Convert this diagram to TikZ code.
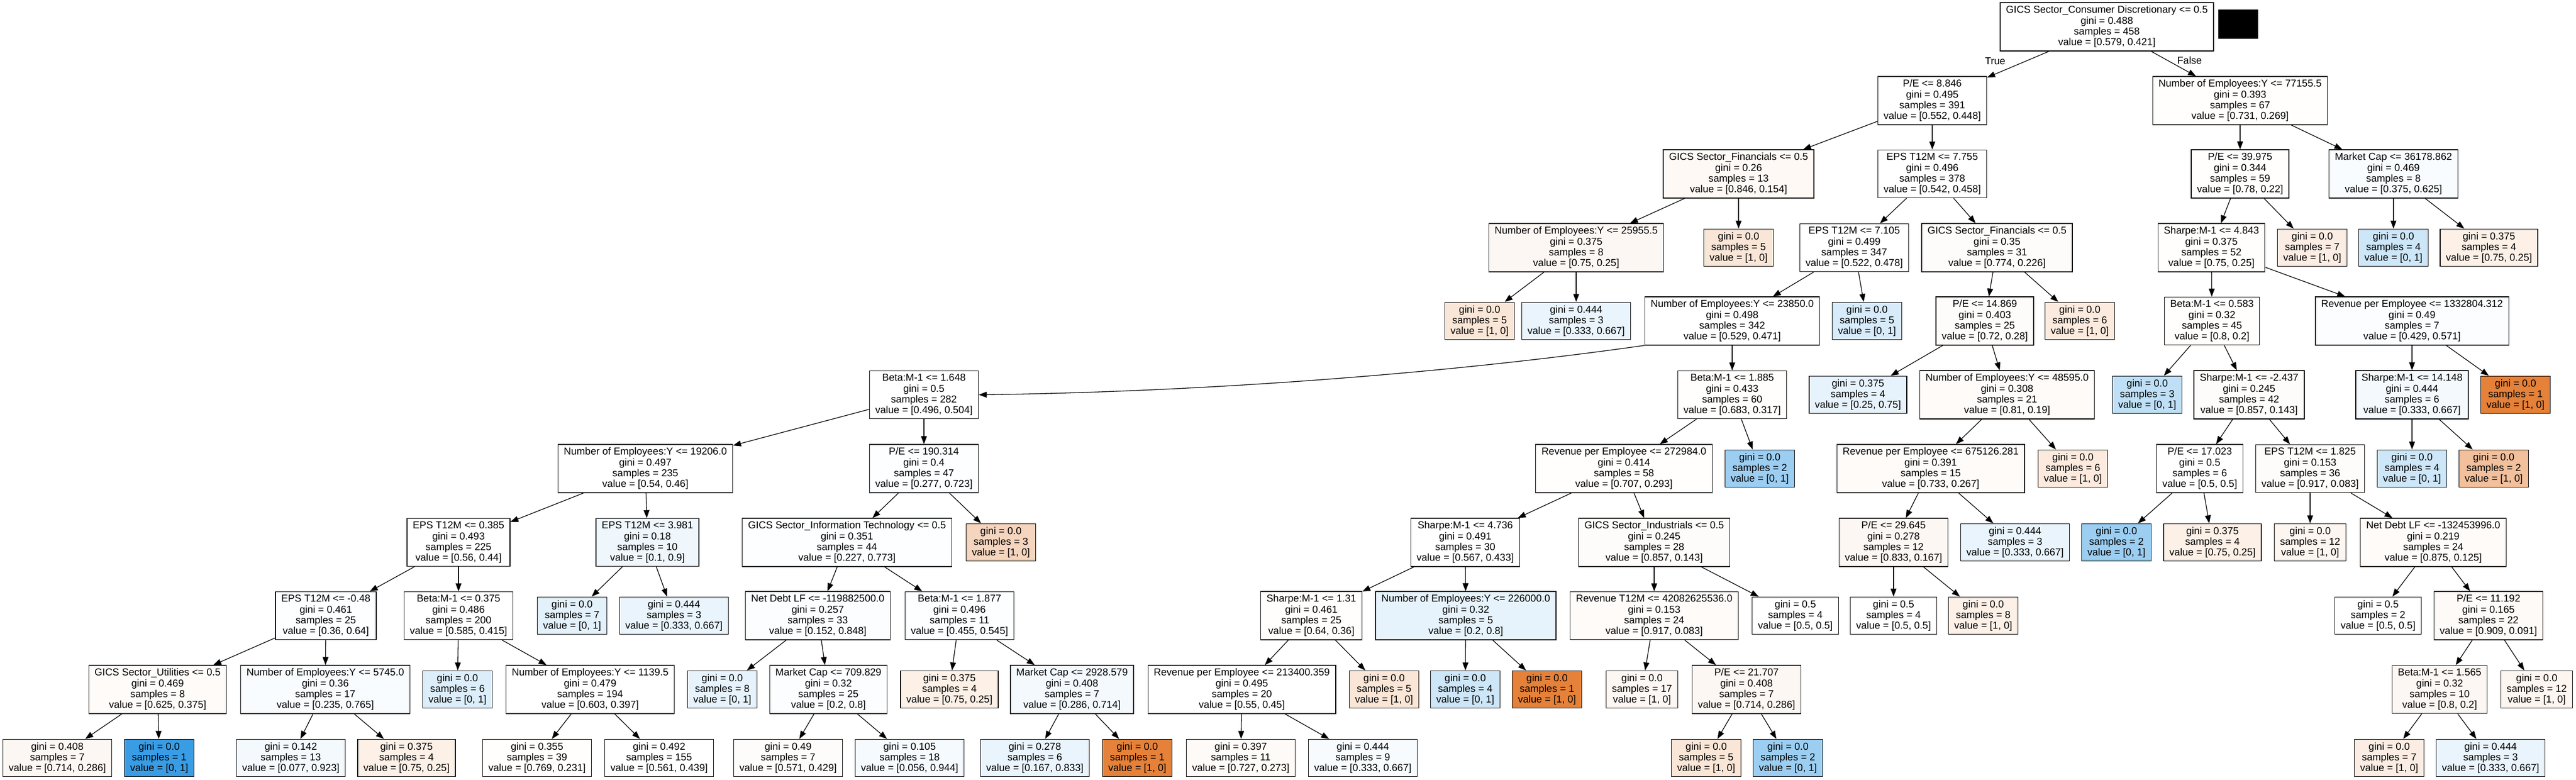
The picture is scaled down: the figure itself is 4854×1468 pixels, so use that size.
\documentclass[tikz,border=0pt]{standalone}
\usepackage{fontspec}
\setmainfont{Liberation Sans}
\usepackage{tikz}
\usetikzlibrary{arrows.meta,positioning,shapes}
\definecolor{cls0}{RGB}{229,129,57}
\definecolor{cls1}{RGB}{57,157,229}

\begin{document}
\begin{tikzpicture}[>={Triangle[width=11pt,length=15pt]}, line width=1.3pt, font=\fontsize{19pt}{20.3pt}\selectfont,
  tnode/.style={draw=black, fill=white, rectangle, align=center, inner xsep=11pt, inner ysep=6.1pt},
  c0/.style={fill=cls0!#1}, c1/.style={fill=cls1!#1}]
\useasboundingbox (0pt, 0pt) rectangle (4854pt, -1468pt);
\fill (4180pt, -18pt) rectangle (4255pt, -73pt);
\draw (3970pt, -50.5pt)node[tnode](0){GICS Sector\_Consumer Discretionary <= 0.5\\gini = 0.488\\samples = 458\\value = [0.579, 0.421]};
\draw (3641pt, -189.5pt)node[tnode](1){P/E <= 8.846\\gini = 0.495\\samples = 391\\value = [0.552, 0.448]};
\draw (3276pt, -327.5pt)node[tnode,c0=5](2){GICS Sector\_Financials <= 0.5\\gini = 0.26\\samples = 13\\value = [0.846, 0.154]};
\draw (2970pt, -466.5pt)node[tnode,c0=6](3){Number of Employees:Y <= 25955.5\\gini = 0.375\\samples = 8\\value = [0.75, 0.25]};
\draw (2788pt, -604.5pt)node[tnode,c0=20](4){gini = 0.0\\samples = 5\\value = [1, 0]};
\draw (2970pt, -604.5pt)node[tnode,c1=11](5){gini = 0.444\\samples = 3\\value = [0.333, 0.667]};
\draw (3276pt, -466.5pt)node[tnode,c0=20](6){gini = 0.0\\samples = 5\\value = [1, 0]};
\draw (3641pt, -327.5pt)node[tnode](7){EPS T12M <= 7.755\\gini = 0.496\\samples = 378\\value = [0.542, 0.458]};
\draw (3494pt, -466.5pt)node[tnode](8){EPS T12M <= 7.105\\gini = 0.499\\samples = 347\\value = [0.522, 0.478]};
\draw (3264pt, -604.5pt)node[tnode](9){Number of Employees:Y <= 23850.0\\gini = 0.498\\samples = 342\\value = [0.529, 0.471]};
\draw (1741pt, -743.5pt)node[tnode](10){Beta:M-1 <= 1.648\\gini = 0.5\\samples = 282\\value = [0.496, 0.504]};
\draw (1216pt, -882.5pt)node[tnode](11){Number of Employees:Y <= 19206.0\\gini = 0.497\\samples = 235\\value = [0.54, 0.46]};
\draw (864pt, -1021.5pt)node[tnode](12){EPS T12M <= 0.385\\gini = 0.493\\samples = 225\\value = [0.56, 0.44]};
\draw (614pt, -1159.5pt)node[tnode,c1=1](13){EPS T12M <= -0.48\\gini = 0.461\\samples = 25\\value = [0.36, 0.64]};
\draw (297pt, -1298.5pt)node[tnode,c0=3](14){GICS Sector\_Utilities <= 0.5\\gini = 0.469\\samples = 8\\value = [0.625, 0.375]};
\draw (108pt, -1427.5pt)node[tnode,c0=6](15){gini = 0.408\\samples = 7\\value = [0.714, 0.286]};
\draw (300pt, -1427.5pt)node[tnode,c1=100](16){gini = 0.0\\samples = 1\\value = [0, 1]};
\draw (613pt, -1298.5pt)node[tnode,c1=3](17){Number of Employees:Y <= 5745.0\\gini = 0.36\\samples = 17\\value = [0.235, 0.765]};
\draw (548pt, -1427.5pt)node[tnode,c1=6](18){gini = 0.142\\samples = 13\\value = [0.077, 0.923]};
\draw (766pt, -1427.5pt)node[tnode,c0=12](19){gini = 0.375\\samples = 4\\value = [0.75, 0.25]};
\draw (864pt, -1159.5pt)node[tnode](20){Beta:M-1 <= 0.375\\gini = 0.486\\samples = 200\\value = [0.585, 0.415]};
\draw (862pt, -1298.5pt)node[tnode,c1=17](21){gini = 0.0\\samples = 6\\value = [0, 1]};
\draw (1112pt, -1298.5pt)node[tnode](22){Number of Employees:Y <= 1139.5\\gini = 0.479\\samples = 194\\value = [0.603, 0.397]};
\draw (1012pt, -1427.5pt)node[tnode,c0=1](23){gini = 0.355\\samples = 39\\value = [0.769, 0.231]};
\draw (1242pt, -1427.5pt)node[tnode](24){gini = 0.492\\samples = 155\\value = [0.561, 0.439]};
\draw (1220pt, -1021.5pt)node[tnode,c1=8](25){EPS T12M <= 3.981\\gini = 0.18\\samples = 10\\value = [0.1, 0.9]};
\draw (1078pt, -1159.5pt)node[tnode,c1=14](26){gini = 0.0\\samples = 7\\value = [0, 1]};
\draw (1270pt, -1159.5pt)node[tnode,c1=11](27){gini = 0.444\\samples = 3\\value = [0.333, 0.667]};
\draw (1741pt, -882.5pt)node[tnode,c1=1](28){P/E <= 190.314\\gini = 0.4\\samples = 47\\value = [0.277, 0.723]};
\draw (1596pt, -1021.5pt)node[tnode,c1=1](29){GICS Sector\_Information Technology <= 0.5\\gini = 0.351\\samples = 44\\value = [0.227, 0.773]};
\draw (1541pt, -1159.5pt)node[tnode,c1=2](30){Net Debt LF <= -119882500.0\\gini = 0.257\\samples = 33\\value = [0.152, 0.848]};
\draw (1361pt, -1298.5pt)node[tnode,c1=12](31){gini = 0.0\\samples = 8\\value = [0, 1]};
\draw (1561pt, -1298.5pt)node[tnode,c1=2](32){Market Cap <= 709.829\\gini = 0.32\\samples = 25\\value = [0.2, 0.8]};
\draw (1485pt, -1427.5pt)node[tnode,c0=2](33){gini = 0.49\\samples = 7\\value = [0.571, 0.429]};
\draw (1714pt, -1427.5pt)node[tnode,c1=5](34){gini = 0.105\\samples = 18\\value = [0.056, 0.944]};
\draw (1808pt, -1159.5pt)node[tnode,c1=1](35){Beta:M-1 <= 1.877\\gini = 0.496\\samples = 11\\value = [0.455, 0.545]};
\draw (1789pt, -1298.5pt)node[tnode,c0=12](36){gini = 0.375\\samples = 4\\value = [0.75, 0.25]};
\draw (2020pt, -1298.5pt)node[tnode,c1=6](37){Market Cap <= 2928.579\\gini = 0.408\\samples = 7\\value = [0.286, 0.714]};
\draw (1950pt, -1427.5pt)node[tnode,c1=11](38){gini = 0.278\\samples = 6\\value = [0.167, 0.833]};
\draw (2143pt, -1427.5pt)node[tnode,c0=100](39){gini = 0.0\\samples = 1\\value = [1, 0]};
\draw (1886pt, -1021.5pt)node[tnode,c0=33](40){gini = 0.0\\samples = 3\\value = [1, 0]};
\draw (3264pt, -743.5pt)node[tnode,c0=1](41){Beta:M-1 <= 1.885\\gini = 0.433\\samples = 60\\value = [0.683, 0.317]};
\draw (3060pt, -882.5pt)node[tnode,c0=1](42){Revenue per Employee <= 272984.0\\gini = 0.414\\samples = 58\\value = [0.707, 0.293]};
\draw (2761pt, -1021.5pt)node[tnode](43){Sharpe:M-1 <= 4.736\\gini = 0.491\\samples = 30\\value = [0.567, 0.433]};
\draw (2471pt, -1159.5pt)node[tnode,c0=1](44){Sharpe:M-1 <= 1.31\\gini = 0.461\\samples = 25\\value = [0.64, 0.36]};
\draw (2340pt, -1298.5pt)node[tnode](45){Revenue per Employee <= 213400.359\\gini = 0.495\\samples = 20\\value = [0.55, 0.45]};
\draw (2338pt, -1427.5pt)node[tnode,c0=4](46){gini = 0.397\\samples = 11\\value = [0.727, 0.273]};
\draw (2568pt, -1427.5pt)node[tnode,c1=4](47){gini = 0.444\\samples = 9\\value = [0.333, 0.667]};
\draw (2608pt, -1298.5pt)node[tnode,c0=20](48){gini = 0.0\\samples = 5\\value = [1, 0]};
\draw (2762pt, -1159.5pt)node[tnode,c1=12](49){Number of Employees:Y <= 226000.0\\gini = 0.32\\samples = 5\\value = [0.2, 0.8]};
\draw (2761pt, -1298.5pt)node[tnode,c1=25](50){gini = 0.0\\samples = 4\\value = [0, 1]};
\draw (2915pt, -1298.5pt)node[tnode,c0=100](51){gini = 0.0\\samples = 1\\value = [1, 0]};
\draw (3117pt, -1021.5pt)node[tnode,c0=2](52){GICS Sector\_Industrials <= 0.5\\gini = 0.245\\samples = 28\\value = [0.857, 0.143]};
\draw (3117pt, -1159.5pt)node[tnode,c0=3](53){Revenue T12M <= 42082625536.0\\gini = 0.153\\samples = 24\\value = [0.917, 0.083]};
\draw (3094pt, -1298.5pt)node[tnode,c0=6](54){gini = 0.0\\samples = 17\\value = [1, 0]};
\draw (3291pt, -1298.5pt)node[tnode,c0=6](55){P/E <= 21.707\\gini = 0.408\\samples = 7\\value = [0.714, 0.286]};
\draw (3215pt, -1427.5pt)node[tnode,c0=20](56){gini = 0.0\\samples = 5\\value = [1, 0]};
\draw (3369pt, -1427.5pt)node[tnode,c1=50](57){gini = 0.0\\samples = 2\\value = [0, 1]};
\draw (3383pt, -1159.5pt)node[tnode](58){gini = 0.5\\samples = 4\\value = [0.5, 0.5]};
\draw (3316pt, -882.5pt)node[tnode,c1=50](59){gini = 0.0\\samples = 2\\value = [0, 1]};
\draw (3518pt, -604.5pt)node[tnode,c1=20](60){gini = 0.0\\samples = 5\\value = [0, 1]};
\draw (3763pt, -466.5pt)node[tnode,c0=2](61){GICS Sector\_Financials <= 0.5\\gini = 0.35\\samples = 31\\value = [0.774, 0.226]};
\draw (3740pt, -604.5pt)node[tnode,c0=2](62){P/E <= 14.869\\gini = 0.403\\samples = 25\\value = [0.72, 0.28]};
\draw (3501pt, -743.5pt)node[tnode,c1=12](63){gini = 0.375\\samples = 4\\value = [0.25, 0.75]};
\draw (3782pt, -743.5pt)node[tnode,c0=3](64){Number of Employees:Y <= 48595.0\\gini = 0.308\\samples = 21\\value = [0.81, 0.19]};
\draw (3638pt, -882.5pt)node[tnode,c0=3](65){Revenue per Employee <= 675126.281\\gini = 0.391\\samples = 15\\value = [0.733, 0.267]};
\draw (3568pt, -1021.5pt)node[tnode,c0=6](66){P/E <= 29.645\\gini = 0.278\\samples = 12\\value = [0.833, 0.167]};
\draw (3568pt, -1159.5pt)node[tnode](67){gini = 0.5\\samples = 4\\value = [0.5, 0.5]};
\draw (3737pt, -1159.5pt)node[tnode,c0=12](68){gini = 0.0\\samples = 8\\value = [1, 0]};
\draw (3797pt, -1021.5pt)node[tnode,c1=11](69){gini = 0.444\\samples = 3\\value = [0.333, 0.667]};
\draw (3906pt, -882.5pt)node[tnode,c0=17](70){gini = 0.0\\samples = 6\\value = [1, 0]};
\draw (3919pt, -604.5pt)node[tnode,c0=17](71){gini = 0.0\\samples = 6\\value = [1, 0]};
\draw (4221pt, -189.5pt)node[tnode,c0=1](72){Number of Employees:Y <= 77155.5\\gini = 0.393\\samples = 67\\value = [0.731, 0.269]};
\draw (4221pt, -327.5pt)node[tnode,c0=1](73){P/E <= 39.975\\gini = 0.344\\samples = 59\\value = [0.78, 0.22]};
\draw (4167pt, -466.5pt)node[tnode,c0=1](74){Sharpe:M-1 <= 4.843\\gini = 0.375\\samples = 52\\value = [0.75, 0.25]};
\draw (4168pt, -604.5pt)node[tnode,c0=1](75){Beta:M-1 <= 0.583\\gini = 0.32\\samples = 45\\value = [0.8, 0.2]};
\draw (4046pt, -743.5pt)node[tnode,c1=33](76){gini = 0.0\\samples = 3\\value = [0, 1]};
\draw (4238pt, -743.5pt)node[tnode,c0=2](77){Sharpe:M-1 <= -2.437\\gini = 0.245\\samples = 42\\value = [0.857, 0.143]};
\draw (4145pt, -882.5pt)node[tnode](78){P/E <= 17.023\\gini = 0.5\\samples = 6\\value = [0.5, 0.5]};
\draw (3988pt, -1021.5pt)node[tnode,c1=50](79){gini = 0.0\\samples = 2\\value = [0, 1]};
\draw (4169pt, -1021.5pt)node[tnode,c0=12](80){gini = 0.375\\samples = 4\\value = [0.75, 0.25]};
\draw (4353pt, -882.5pt)node[tnode,c0=2](81){EPS T12M <= 1.825\\gini = 0.153\\samples = 36\\value = [0.917, 0.083]};
\draw (4353pt, -1021.5pt)node[tnode,c0=8](82){gini = 0.0\\samples = 12\\value = [1, 0]};
\draw (4585pt, -1021.5pt)node[tnode,c0=3](83){Net Debt LF <= -132453996.0\\gini = 0.219\\samples = 24\\value = [0.875, 0.125]};
\draw (4481pt, -1159.5pt)node[tnode](84){gini = 0.5\\samples = 2\\value = [0.5, 0.5]};
\draw (4689pt, -1159.5pt)node[tnode,c0=4](85){P/E <= 11.192\\gini = 0.165\\samples = 22\\value = [0.909, 0.091]};
\draw (4597pt, -1298.5pt)node[tnode,c0=6](86){Beta:M-1 <= 1.565\\gini = 0.32\\samples = 10\\value = [0.8, 0.2]};
\draw (4502pt, -1427.5pt)node[tnode,c0=14](87){gini = 0.0\\samples = 7\\value = [1, 0]};
\draw (4693pt, -1427.5pt)node[tnode,c1=11](88){gini = 0.444\\samples = 3\\value = [0.333, 0.667]};
\draw (4780pt, -1298.5pt)node[tnode,c0=8](89){gini = 0.0\\samples = 12\\value = [1, 0]};
\draw (4545pt, -604.5pt)node[tnode,c1=2](90){Revenue per Employee <= 1332804.312\\gini = 0.49\\samples = 7\\value = [0.429, 0.571]};
\draw (4545pt, -743.5pt)node[tnode,c1=6](91){Sharpe:M-1 <= 14.148\\gini = 0.444\\samples = 6\\value = [0.333, 0.667]};
\draw (4545pt, -882.5pt)node[tnode,c1=25](92){gini = 0.0\\samples = 4\\value = [0, 1]};
\draw (4699pt, -882.5pt)node[tnode,c0=50](93){gini = 0.0\\samples = 2\\value = [1, 0]};
\draw (4740pt, -743.5pt)node[tnode,c0=100](94){gini = 0.0\\samples = 1\\value = [1, 0]};
\draw (4357pt, -466.5pt)node[tnode,c0=14](95){gini = 0.0\\samples = 7\\value = [1, 0]};
\draw (4510pt, -327.5pt)node[tnode,c1=3](96){Market Cap <= 36178.862\\gini = 0.469\\samples = 8\\value = [0.375, 0.625]};
\draw (4510pt, -466.5pt)node[tnode,c1=25](97){gini = 0.0\\samples = 4\\value = [0, 1]};
\draw (4690pt, -466.5pt)node[tnode,c0=12](98){gini = 0.375\\samples = 4\\value = [0.75, 0.25]};
\path[->] (0) edge node[left=20pt, yshift=6pt]{True}(1) edge node[right=3pt, yshift=6pt]{False}(72);
\path[->] (1) edge (2) edge (7);
\path[->] (2) edge (3) edge (6);
\path[->] (3) edge (4) edge (5);
\path[->] (7) edge (8) edge (61);
\path[->] (8) edge (9) edge (60);
\draw[->] (9.south west) .. controls (2700pt, -707pt) and (2250pt, -738pt) .. (10.east);
\path[->] (9) edge (41);
\path[->] (10) edge (11) edge (28);
\path[->] (11) edge (12) edge (25);
\path[->] (12) edge (13) edge (20);
\path[->] (13) edge (14) edge (17);
\path[->] (14) edge (15) edge (16);
\path[->] (17) edge (18) edge (19);
\path[->] (20) edge (21) edge (22);
\path[->] (22) edge (23) edge (24);
\path[->] (25) edge (26) edge (27);
\path[->] (28) edge (29) edge (40);
\path[->] (29) edge (30) edge (35);
\path[->] (30) edge (31) edge (32);
\path[->] (32) edge (33) edge (34);
\path[->] (35) edge (36) edge (37);
\path[->] (37) edge (38) edge (39);
\path[->] (41) edge (42) edge (59);
\path[->] (42) edge (43) edge (52);
\path[->] (43) edge (44) edge (49);
\path[->] (44) edge (45) edge (48);
\path[->] (45) edge (46) edge (47);
\path[->] (49) edge (50) edge (51);
\path[->] (52) edge (53) edge (58);
\path[->] (53) edge (54) edge (55);
\path[->] (55) edge (56) edge (57);
\path[->] (61) edge (62) edge (71);
\path[->] (62) edge (63) edge (64);
\path[->] (64) edge (65) edge (70);
\path[->] (65) edge (66) edge (69);
\path[->] (66) edge (67) edge (68);
\path[->] (72) edge (73) edge (96);
\path[->] (73) edge (74) edge (95);
\path[->] (74) edge (75) edge (90);
\path[->] (75) edge (76) edge (77);
\path[->] (77) edge (78) edge (81);
\path[->] (78) edge (79) edge (80);
\path[->] (81) edge (82) edge (83);
\path[->] (83) edge (84) edge (85);
\path[->] (85) edge (86) edge (89);
\path[->] (86) edge (87) edge (88);
\path[->] (90) edge (91) edge (94);
\path[->] (91) edge (92) edge (93);
\path[->] (96) edge (97) edge (98);
\end{tikzpicture}
\end{document}
